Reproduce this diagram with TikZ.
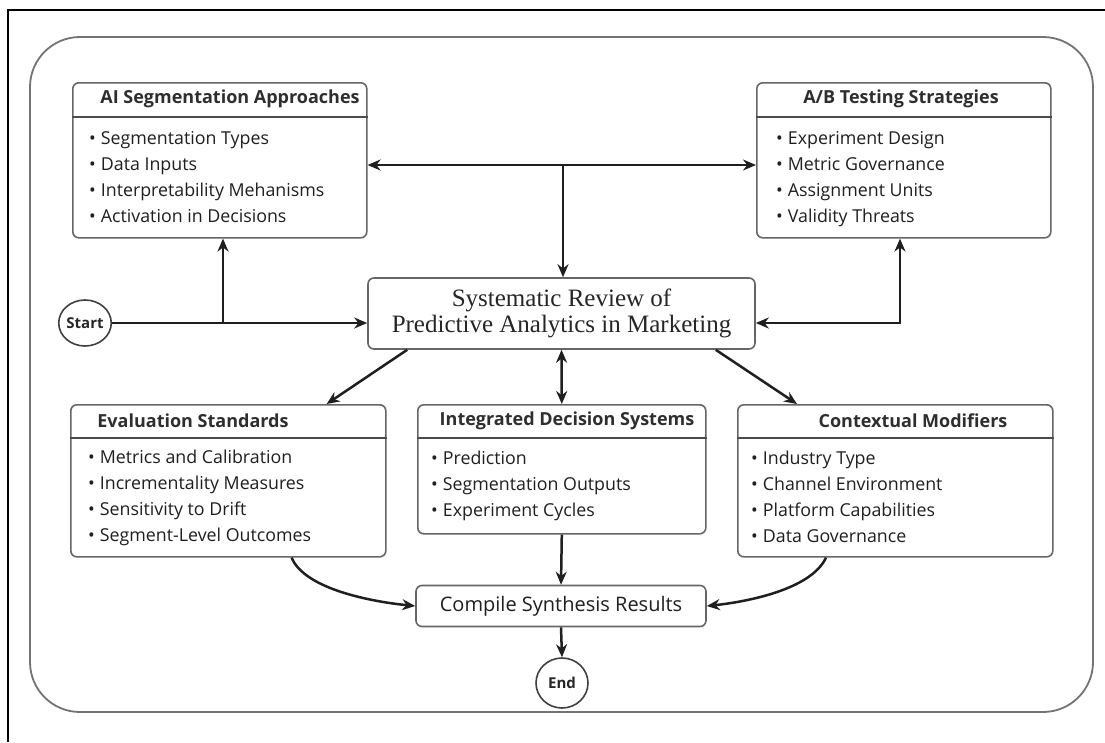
\documentclass[tikz,border=0pt]{standalone}
\usepackage{fontspec}
\setmainfont{Open Sans}
\newfontfamily\revfont{Liberation Serif}
\usetikzlibrary{arrows.meta,calc,shapes.geometric}

\begin{document}
\begin{tikzpicture}[x=1pt,y=-1pt,
  frameline/.style={line width=2.4pt,black},
  container/.style={draw=black!55,line width=1.8pt,rounded corners=50pt},
  panel/.style={draw=black!60,line width=1.6pt,rounded corners=6pt,fill=white,inner sep=0pt,anchor=north west},
  divider/.style={draw=black!70,line width=1.4pt},
  title/.style={font=\fontsize{18}{20}\selectfont\bfseries,text=black!82,inner sep=0pt},
  item/.style={font=\fontsize{17.8}{20}\selectfont,text=black!88,inner sep=0pt,anchor=base west},
  terminal/.style={ellipse,draw=black!75,line width=1.6pt,inner sep=0pt,font=\fontsize{15}{17}\selectfont\bfseries,text=black!85},
  conn/.style={draw=black!88,line width=2.5pt,-{Stealth[length=13pt,width=11pt]}},
  biconn/.style={draw=black!88,line width=2.5pt,{Stealth[length=13pt,width=11pt]}-{Stealth[length=13pt,width=11pt]}},
]
\useasboundingbox (0,0) rectangle (1105,742);

% outer frame and container
\draw[frameline] (8,742) -- (8,10) -- (1105,10);
\draw[container] (30,37) rectangle (1093,712);

% ---- top panels
\node[panel,minimum width=294pt,minimum height=155pt] (ai) at (72,82) {};
\draw[divider] ($(ai.north west)+(0,35)$) -- ($(ai.north east)+(0,35)$);
\node[title] (aiT) at (230,99) {AI Segmentation Approaches};
\foreach \t [count=\i] in {Segmentation Types,Data Inputs,Interpretability Mehanisms,Activation in Decisions}
  \node[item] (ai\i) at (89,{144+26*(\i-1)}) {\textbullet\hspace{5pt}\t};

\node[panel,minimum width=294pt,minimum height=155pt] (ab) at (756,82) {};
\draw[divider] ($(ab.north west)+(0,35)$) -- ($(ab.north east)+(0,35)$);
\node[title] (abT) at (901,99) {A/B Testing Strategies};
\foreach \t [count=\i] in {Experiment Design,Metric Governance,Assignment Units,Validity Threats}
  \node[item] (ab\i) at (776,{144+26*(\i-1)}) {\textbullet\hspace{5pt}\t};

% ---- central review box
\node[panel,anchor=center,minimum width=387pt,minimum height=71pt,
      font=\revfont\fontsize{25}{26}\selectfont,text=black!85,align=center] (rev) at (561.5,313.5)
  {Systematic Review of\\Predictive Analytics in Marketing};

\node[terminal,minimum width=45pt,minimum height=46pt] (start) at (85,323) {Start};

% ---- bottom panels
\node[panel,minimum width=315pt,minimum height=152pt] (ev) at (70,404) {};
\draw[divider] ($(ev.north west)+(0,34)$) -- ($(ev.north east)+(0,34)$);
\node[title] (evT) at (193,421) {Evaluation Standards};
\foreach \t [count=\i] in {Metrics and Calibration,Incrementality Measures,Sensitivity to Drift,Segment-Level Outcomes}
  \node[item] (ev\i) at (88,{463+26*(\i-1)}) {\textbullet\hspace{5pt}\t};

\node[panel,minimum width=288pt,minimum height=129pt] (ids) at (417,404) {};
\draw[divider] ($(ids.north west)+(0,34)$) -- ($(ids.north east)+(0,34)$);
\node[title] (idsT) at (567,421) {Integrated Decision Systems};
\foreach \t [count=\i] in {Prediction,Segmentation Outputs,Experiment Cycles}
  \node[item] (ids\i) at (431,{464+26*(\i-1)}) {\textbullet\hspace{5pt}\t};

\node[panel,minimum width=315pt,minimum height=152pt] (ctx) at (737,404) {};
\draw[divider] ($(ctx.north west)+(0,34)$) -- ($(ctx.north east)+(0,34)$);
\node[title] (ctxT) at (913,421) {Contextual Modifiers};
\foreach \t [count=\i] in {Industry Type,Channel Environment,Platform Capabilities,Data Governance}
  \node[item] (ctx\i) at (751,{464+26*(\i-1)}) {\textbullet\hspace{5pt}\t};

% ---- synthesis and end
\node[panel,anchor=center,minimum width=290pt,minimum height=41pt,
      font=\fontsize{20}{22}\selectfont,text=black!88] (cmp) at (561,606) {Compile Synthesis Results};
\node[terminal,minimum width=52pt,minimum height=50pt] (end) at (562,683) {End};

% ---- connectors
\coordinate (j1) at (223,323);
\draw[conn] (start) -- (start.east -| rev.west);
\draw[conn] (j1) -- (j1 |- ai.south);

\coordinate (bus) at (563,165);
\draw[biconn] (ai.east |- bus) -- (ab.west |- bus);
\draw[conn] (bus) -- (bus |- rev.north);

\coordinate (rb) at (900,323);
\draw[biconn] (rev.east |- rb) -- (rb) -- (rb |- ab.south);

\draw[conn] ($(rev.south west)+(40,0)$) -- ($(ev.north east)+(-60,0)$);
\draw[biconn] (rev.south) -- (ids.north);
\draw[conn] ($(rev.south east)+(-40,0)$) -- ($(ctx.north west)+(60,0)$);

\draw[conn] (ids.south) -- (cmp.north);
\draw[conn] (cmp.south) -- (end.north);

\draw[conn] ($(ev.south east)+(-95,0)$) .. controls (305,590) and (375,602) .. (cmp.west);
\draw[conn] ($(ctx.south west)+(89,0)$) .. controls (811,590) and (745,602) .. (cmp.east);
\end{tikzpicture}
\end{document}
